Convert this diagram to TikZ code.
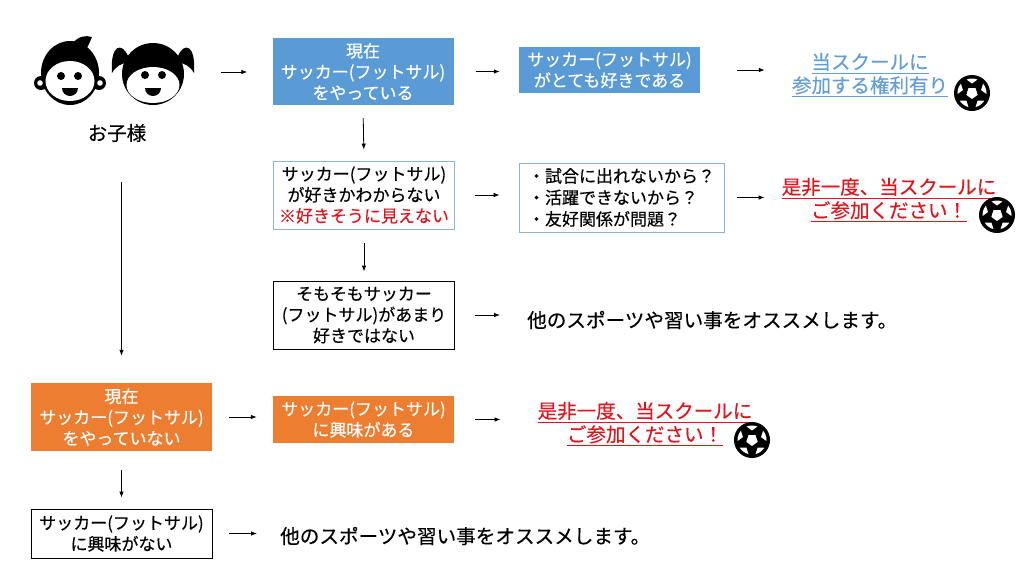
\documentclass[tikz,border=0pt]{standalone}
\usepackage{fontspec}
\newfontfamily\jp{Noto Sans CJK JP}[FakeBold=0.4]
\usetikzlibrary{arrows.meta}
\definecolor{skyblue}{RGB}{91,155,213}
\definecolor{tangerine}{RGB}{237,125,49}
\definecolor{linkblue}{RGB}{100,158,214}
\definecolor{alertred}{RGB}{225,20,30}
\definecolor{framegray}{RGB}{140,180,205}
\newcommand{\undl}[1]{\setbox0=\hbox{#1}\rlap{\copy0}\rule[-4.5pt]{\wd0}{1pt}}
\tikzset{
        flowbox/.style={minimum width=181pt, minimum height=68pt, inner sep=0pt, align=center, font=\jp\fontsize{17}{21}\selectfont},
        bluebox/.style={flowbox, fill=skyblue, text=white},
        orangebox/.style={flowbox, fill=tangerine, text=white},
        framebox/.style={flowbox, draw=framegray, line width=0.8pt},
        plainbox/.style={flowbox, draw=black, line width=0.8pt},
        linktext/.style={inner sep=0pt, align=center, font=\jp\fontsize{19.5}{23.5}\selectfont},
        advice/.style={inner sep=0pt, font=\jp\fontsize{19.6}{22}\selectfont},
        arr/.style={-{Latex[length=6pt,width=4.5pt]}, line width=0.8pt},
        soccer/.pic={
                \fill (0,0) circle (18);
                \fill[white] (90:6) -- (162:6) -- (234:6) -- (306:6) -- (18:6) -- cycle;
                \begin{scope}
                        \clip (0,0) circle (14.5);
                        \foreach \a in {54,126,198,270,342}
                                \fill[white, shift={(\a:15.5)}, rotate=\a] (0:6) -- (72:6) -- (144:6) -- (216:6) -- (288:6) -- cycle;
                \end{scope}
        }
}
\begin{document}
\begin{tikzpicture}[x=1pt,y=-1pt]
        \useasboundingbox (0,0) rectangle (1024,576);
        \fill (70,73) ellipse (29 and 32);
        \fill (41,83) circle (7);
        \fill (99,83) circle (7);
        \fill[white] (40,83) circle (2.8);
        \fill[white] (100,83) circle (2.8);
        \fill (72,44) .. controls (78,36) and (86,35) .. (92,37) .. controls (90,42) and (88,46) .. (86,50) -- cycle;
        \fill[white] (70,81) ellipse (24.5 and 20);
        \fill (61,76) circle (4);
        \fill (78,76) circle (4);
        \fill (62,88) arc[start angle=180, end angle=0, radius=8] -- cycle;
        \fill (153,74) circle (31);
        \fill (128,56) .. controls (122,42) and (110,44) .. (112,73) .. controls (116,66) and (122,63) .. (127,63) -- cycle;
        \fill (178,56) .. controls (184,42) and (196,44) .. (194,73) .. controls (190,66) and (184,63) .. (179,63) -- cycle;
        \fill[white] (153,85) ellipse (26.5 and 18);
        \fill (145,75) circle (4);
        \fill (162,75) circle (4);
        \fill (145,88) arc[start angle=180, end angle=0, radius=8] -- cycle;
        \node[minimum width=160pt, minimum height=70pt] (kids) at (116,72) {};
        \node[font=\jp\fontsize{19.5}{23}\selectfont, inner sep=0pt] (kidslbl) at (117,133) {お子様};
        \node[bluebox, minimum height=67pt] (cur) at (363,71.5) {現在\\サッカー(フットサル)\\をやっている};
        \node[bluebox, minimum height=46pt] (love) at (609.5,70) {サッカー(フットサル)\\がとても好きである};
        \node[linktext, text=linkblue] (link) at (870,75) {\undl{当スクールに}\\\undl{参加する権利有り}};
        \pic at (972,93) {soccer};
        \node[framebox] (unsure) at (364,195) {サッカー(フットサル)\\が好きかわからない\\\textcolor{alertred}{※好きそうに見えない}};
        \node[framebox, minimum width=205pt, minimum height=69pt, align=left, font=\jp\fontsize{17}{21.5}\selectfont] (reasons) at (621.5,197.5) {・試合に出れないから？\\・活躍できないから？\\・友好関係が問題？};
        \node[linktext, text=alertred] (invite) at (889,200) {\undl{是非一度、当スクールに}\\\undl{ご参加ください！}};
        \pic at (997,215) {soccer};
        \node[plainbox] (dislike) at (364,315) {そもそもサッカー\\(フットサル)があまり\\好きではない};
        \node[advice, anchor=west] (other) at (527,320) {他のスポーツや習い事をオススメします。};
        \node[orangebox] (notcur) at (121.5,417) {現在\\サッカー(フットサル)\\をやっていない};
        \node[orangebox, minimum height=47pt] (interest) at (363.5,419.5) {サッカー(フットサル)\\に興味がある};
        \node[linktext, text=alertred] (invitetwo) at (645,424) {\undl{是非一度、当スクールに}\\\undl{ご参加ください！}};
        \pic at (752,440) {soccer};
        \node[plainbox, minimum height=49pt] (nointerest) at (121.5,533.5) {サッカー(フットサル)\\に興味がない};
        \node[advice, anchor=west] (othertwo) at (280,536) {他のスポーツや習い事をオススメします。};
        \draw[arr, shorten <=25pt, shorten >=25pt] (kids.east) -- (kids.east -| cur.west);
        \draw[arr, shorten <=22pt, shorten >=19pt] (cur.east) -- (cur.east -| love.west);
        \draw[arr, shorten <=37pt, shorten >=27pt] (love.east) -- (love.east -| link.west);
        \draw[arr, shorten <=13pt, shorten >=11pt] (cur.south) -- (unsure.north);
        \draw[arr, shorten <=20pt, shorten >=19pt] (unsure.east) -- (unsure.east -| reasons.west);
        \draw[arr, shorten <=13pt, shorten >=17pt] (reasons.east) -- (reasons.east -| invite.west);
        \draw[arr, shorten <=14pt, shorten >=9pt] (unsure.south) -- (dislike.north);
        \draw[arr, shorten <=20pt, shorten >=27pt] (dislike.east) -- (dislike.east -| other.west);
        \draw[arr, shorten <=40pt, shorten >=27pt] (kidslbl.south -| notcur.north) -- (notcur.north);
        \draw[arr, shorten <=17pt, shorten >=16pt] (notcur.east) -- (notcur.east -| interest.west);
        \draw[arr, shorten <=21pt, shorten >=37pt] (interest.east) -- (interest.east -| invitetwo.west);
        \draw[arr, shorten <=19pt, shorten >=11pt] (notcur.south) -- (nointerest.north);
        \draw[arr, shorten <=17pt, shorten >=23pt] (nointerest.east) -- (nointerest.east -| othertwo.west);
\end{tikzpicture}
\end{document}
